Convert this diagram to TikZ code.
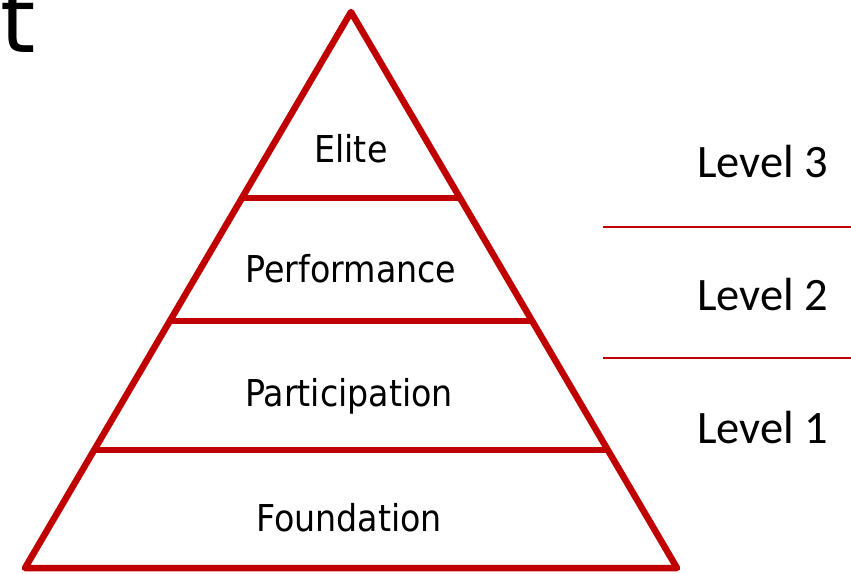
\documentclass[tikz,border=0pt]{standalone}
\usepackage{fontspec}
\setmainfont{DejaVu Sans}
\newfontfamily\pyrfont{DejaVu Sans Condensed}
\newfontfamily\lvlfont{Carlito}
\usetikzlibrary{calc}
\definecolor{pyrred}{RGB}{192,0,0}
\begin{document}
\begin{tikzpicture}[x=1pt,y=-1pt,
  edge/.style={draw=pyrred,line width=6.5pt,line join=round},
  sep/.style={draw=pyrred,line width=2pt},
  tier/.style={anchor=base,font=\pyrfont\fontsize{37}{40}\selectfont,inner sep=0pt},
  lvl/.style={anchor=base west,font=\lvlfont\fontsize{46.5}{50}\selectfont,inner sep=0pt}]
\useasboundingbox (0,0) rectangle (851,573);
\begin{scope}
\clip (0,0) rectangle (851,573);
\node[anchor=base west,inner sep=0pt,font=\fontsize{90}{92}\selectfont] (t) at (0,52) {t};
\end{scope}
\coordinate (A) at (351,12);
\coordinate (BL) at (25,568);
\coordinate (BR) at (677,568);
\draw[edge] (A) -- (BL) -- (BR) -- cycle;
\coordinate (l1) at ($(A)!0.3345!(BL)$);
\coordinate (r1) at ($(A)!0.3345!(BR)$);
\coordinate (l2) at ($(A)!0.5558!(BL)$);
\coordinate (r2) at ($(A)!0.5558!(BR)$);
\coordinate (l3) at ($(A)!0.7878!(BL)$);
\coordinate (r3) at ($(A)!0.7878!(BR)$);
\draw[edge] (l1) -- (r1);
\draw[edge] (l2) -- (r2);
\draw[edge] (l3) -- (r3);
\node[tier] (elite) at (351,162) {Elite};
\node[tier] (perf) at (351,282) {Performance};
\node[tier] (part) at (349,406) {Participation};
\node[tier] (found) at (349,531) {Foundation};
\coordinate (s1a) at (603,227);
\coordinate (s1b) at (851,227);
\coordinate (s2a) at (603,358);
\coordinate (s2b) at (851,358);
\draw[sep] (s1a) -- (s1b);
\draw[sep] (s2a) -- (s2b);
\node[lvl] (lv3) at (697,177) {Level 3};
\node[lvl] (lv2) at (697,310) {Level 2};
\node[lvl] (lv1) at (697,443) {Level 1};
\end{tikzpicture}
\end{document}
